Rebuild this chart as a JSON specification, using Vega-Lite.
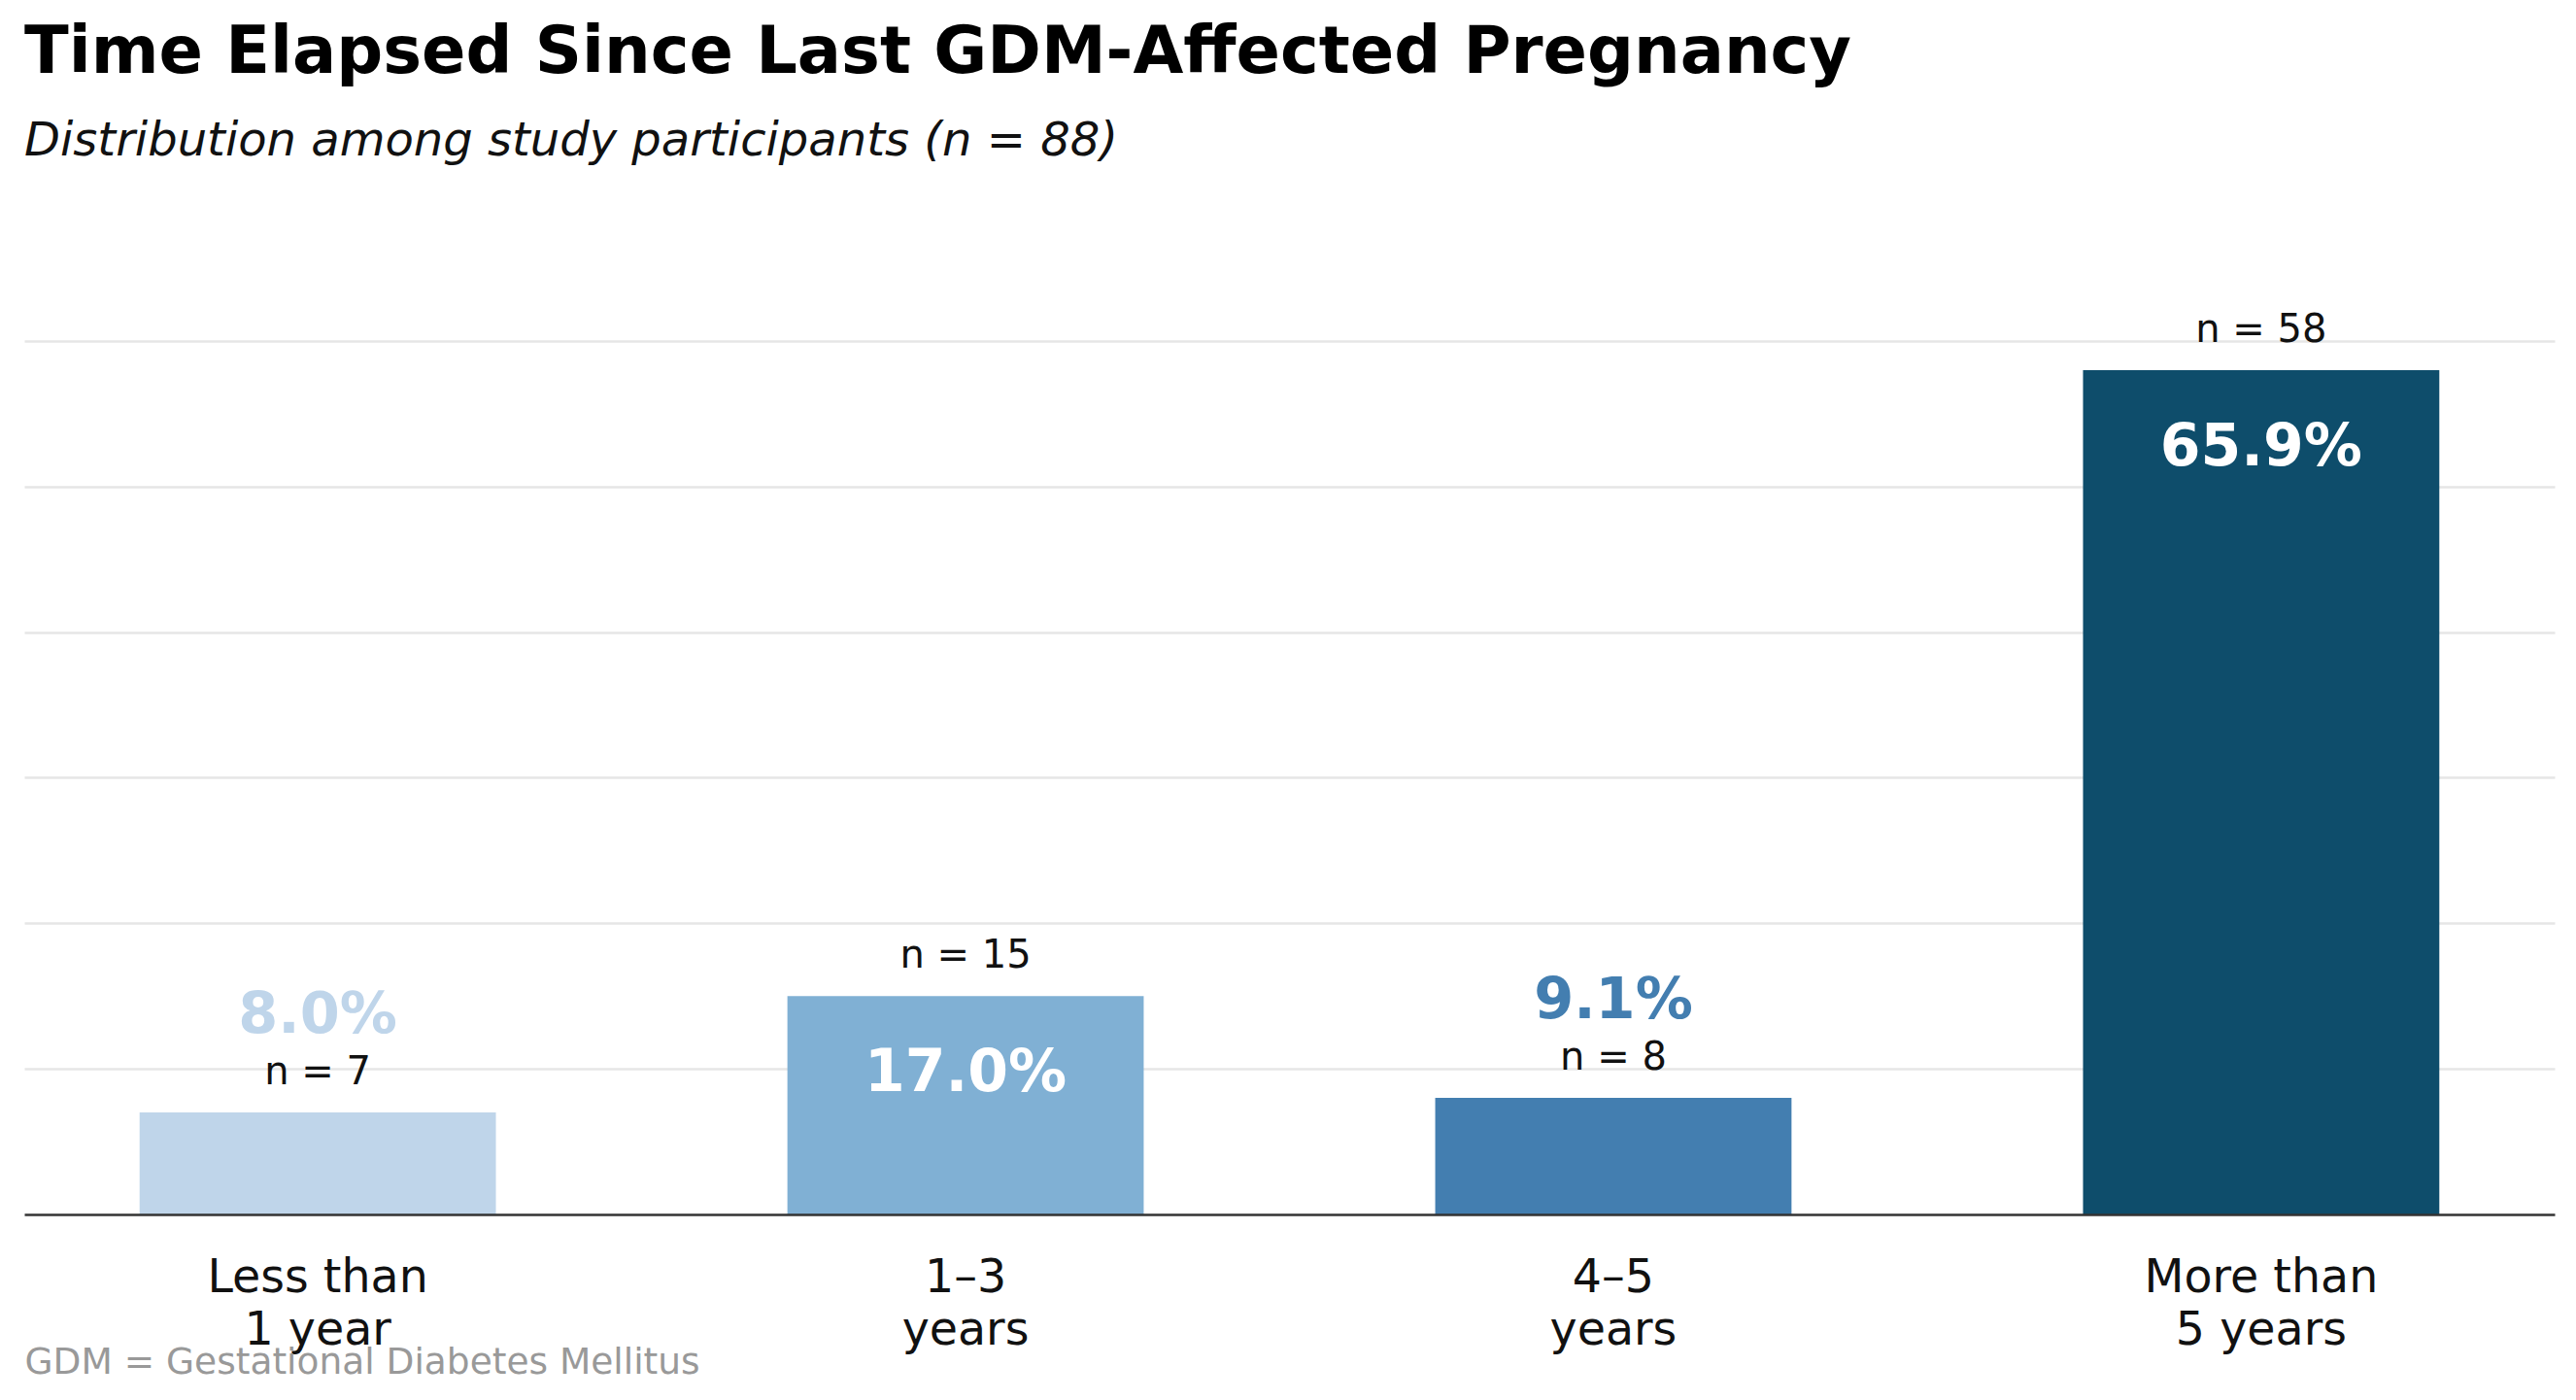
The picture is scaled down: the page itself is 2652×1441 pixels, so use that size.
{
  "$schema": "https://vega.github.io/schema/vega-lite/v6.json",
  "width": 2605,
  "height": 989,
  "autosize": {"type": "none"},
  "padding": {"left": 25, "top": 261, "right": 22, "bottom": 191},
  "background": "white",
  "title": {
    "text": "Time Elapsed Since Last GDM-Affected Pregnancy",
    "subtitle": "Distribution among study participants (n = 88)",
    "anchor": "start",
    "frame": "group",
    "font": "DejaVu Sans",
    "fontSize": 67,
    "fontWeight": "bold",
    "color": "#000000",
    "subtitleFont": "DejaVu Sans",
    "subtitleFontSize": 48,
    "subtitleFontStyle": "italic",
    "subtitleColor": "#111111",
    "subtitlePadding": 33,
    "offset": 90
  },
  "data": {
    "values": [
      {"period": "Less than\n1 year", "n": 7, "pct": 0.080},
      {"period": "1–3\nyears", "n": 15, "pct": 0.170},
      {"period": "4–5\nyears", "n": 8, "pct": 0.091},
      {"period": "More than\n5 years", "n": 58, "pct": 0.659}
    ]
  },
  "transform": [{"calculate": "'n = ' + datum.n", "as": "nLabel"}],
  "encoding": {
    "x": {
      "field": "period",
      "type": "nominal",
      "sort": null,
      "scale": {"paddingInner": 0.45, "paddingOuter": 0.178},
      "axis": {
        "labelExpr": "split(datum.value, '\\n')",
        "labelAngle": 0,
        "labelLimit": 0,
        "labelFont": "DejaVu Sans",
        "labelFontSize": 47.5,
        "labelColor": "#111111",
        "labelLineHeight": 54,
        "labelBaseline": "top",
        "labelPadding": 41,
        "ticks": false,
        "tickSize": 0,
        "domainColor": "#333333",
        "domainWidth": 2.5,
        "grid": false,
        "title": "GDM = Gestational Diabetes Mellitus",
        "titleAnchor": "start",
        "titleAlign": "left",
        "titleFont": "DejaVu Sans",
        "titleFontSize": 37.5,
        "titleFontWeight": "normal",
        "titleColor": "#999999",
        "titleBaseline": "alphabetic",
        "titleY": 163,
        "zindex": 1
      }
    },
    "y": {
      "field": "n",
      "type": "quantitative",
      "scale": {"domain": [0, 66]},
      "axis": {
        "values": [10, 20, 30, 40, 50, 60],
        "labels": false,
        "ticks": false,
        "domain": false,
        "title": null,
        "gridColor": "#e6e6e6",
        "gridWidth": 2.5
      }
    }
  },
  "layer": [
    {
      "mark": {"type": "bar"},
      "encoding": {
        "color": {
          "field": "period",
          "type": "nominal",
          "scale": {
            "domain": ["Less than\n1 year", "1–3\nyears", "4–5\nyears", "More than\n5 years"],
            "range": ["#bfd5ea", "#80b0d4", "#437eb0", "#0e4d6b"]
          },
          "legend": null
        }
      }
    },
    {
      "mark": {"type": "text", "font": "DejaVu Sans", "fontSize": 40, "baseline": "alphabetic", "dy": -29, "color": "#111111"},
      "encoding": {"text": {"field": "nLabel", "type": "nominal"}}
    },
    {
      "transform": [{"filter": "datum.n < 10"}],
      "mark": {"type": "text", "font": "DejaVu Sans", "fontSize": 59, "fontWeight": "bold", "baseline": "alphabetic", "dy": -82},
      "encoding": {
        "text": {"field": "pct", "type": "quantitative", "format": ".1%"},
        "color": {
          "field": "period",
          "type": "nominal",
          "scale": {
            "domain": ["Less than\n1 year", "1–3\nyears", "4–5\nyears", "More than\n5 years"],
            "range": ["#bfd5ea", "#80b0d4", "#437eb0", "#0e4d6b"]
          },
          "legend": null
        }
      }
    },
    {
      "transform": [{"filter": "datum.n >= 10"}],
      "mark": {"type": "text", "font": "DejaVu Sans", "fontSize": 60, "fontWeight": "bold", "baseline": "alphabetic", "dy": 98, "color": "#ffffff"},
      "encoding": {"text": {"field": "pct", "type": "quantitative", "format": ".1%"}}
    }
  ],
  "config": {"view": {"stroke": null}}
}
